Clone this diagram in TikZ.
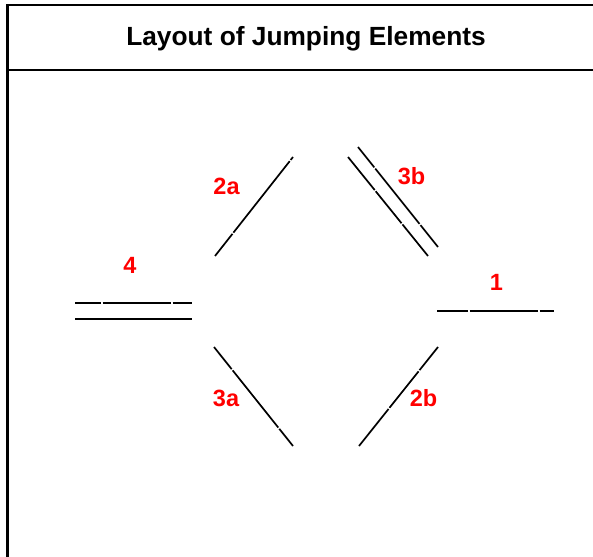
\documentclass[tikz,border=0pt]{standalone}
\usepackage{fontspec}
\setmainfont{Liberation Sans}
\usetikzlibrary{calc}
\definecolor{lblred}{RGB}{255,0,0}
\tikzset{
  frameline/.style={line width=2.6pt, black},
  elemline/.style={line width=1.7pt, black},
  titletext/.style={font=\bfseries\fontsize{26.3}{30}\selectfont, anchor=base, inner sep=0pt},
  lbl/.style={font=\bfseries\fontsize{23.5}{26}\selectfont, text=lblred, anchor=base, inner sep=0pt}
}
\begin{document}
\begin{tikzpicture}[x=1pt,y=-1pt]
\useasboundingbox (0,0) rectangle (593,556);
\clip (0,0) rectangle (593,556);
% frame
\coordinate (fbl) at (7.5,600);
\coordinate (ftl) at (7.5,5);
\coordinate (ftr) at (600,5);
\coordinate (sl) at (7.5,70);
\coordinate (sr) at (600,70);
\draw[frameline] (fbl) -- (ftl) -- (ftr);
\draw[frameline] (sl) -- (sr);
\node[titletext] (title) at (306,46) {Layout of Jumping Elements};

% element 4 (two horizontal lines)
\coordinate (a4) at (75,303);  \coordinate (b4) at (192,303);
\coordinate (c4) at (75,319);  \coordinate (d4) at (192,319);
\draw[elemline] (a4) -- (101.3,303) (102.7,303) -- (171.3,303) (172.7,303) -- (b4);
\draw[elemline] (c4) -- (d4);

% element 1
\coordinate (a1) at (437,311); \coordinate (b1) at (554,311);
\draw[elemline] (a1) -- (468.3,311) (469.7,311) -- (538.3,311) (539.7,311) -- (b1);

% element 2a
\coordinate (a2a) at (215,256); \coordinate (b2a) at (293,157);
\draw[elemline] (a2a) -- ($(a2a)!.224!(b2a)$) ($(a2a)!.236!(b2a)$) -- ($(a2a)!.958!(b2a)$) ($(a2a)!.97!(b2a)$) -- (b2a);

% element 3b (two parallel lines)
\coordinate (a3b) at (358,147); \coordinate (b3b) at (438,247);
\coordinate (c3b) at (348,157); \coordinate (d3b) at (428,256);
\draw[elemline] (a3b) -- ($(a3b)!.204!(b3b)$) ($(a3b)!.216!(b3b)$) -- ($(a3b)!.769!(b3b)$) ($(a3b)!.781!(b3b)$) -- (b3b);
\draw[elemline] (c3b) -- ($(c3b)!.334!(d3b)$) ($(c3b)!.346!(d3b)$) -- ($(c3b)!.669!(d3b)$) ($(c3b)!.681!(d3b)$) -- (d3b);

% element 3a
\coordinate (a3a) at (214,347); \coordinate (b3a) at (293,446);
\draw[elemline] (a3a) -- ($(a3a)!.224!(b3a)$) ($(a3a)!.236!(b3a)$) -- ($(a3a)!.814!(b3a)$) ($(a3a)!.826!(b3a)$) -- (b3a);

% element 2b
\coordinate (a2b) at (438,347); \coordinate (b2b) at (359,446);
\draw[elemline] (a2b) -- ($(a2b)!.234!(b2b)$) ($(a2b)!.246!(b2b)$) -- ($(a2b)!.614!(b2b)$) ($(a2b)!.626!(b2b)$) -- (b2b);

% labels
\node[lbl] (l2a) at (226.5,194) {2a};
\node[lbl] (l4)  at (130,273) {4};
\node[lbl] (l3b) at (411.5,184) {3b};
\node[lbl] (l1)  at (496.5,290) {1};
\node[lbl] (l3a) at (226,406) {3a};
\node[lbl] (l2b) at (423.5,406) {2b};
\end{tikzpicture}
\end{document}
